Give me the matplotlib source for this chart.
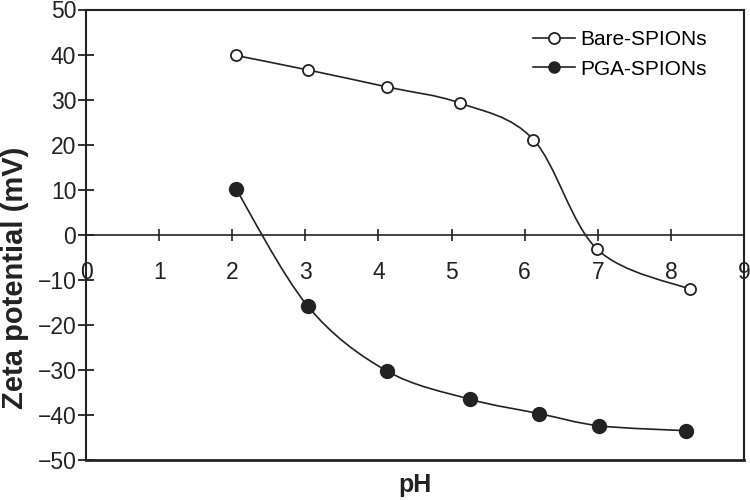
import numpy as np
import matplotlib.pyplot as plt
from matplotlib.path import Path
from matplotlib.patches import PathPatch

plt.rcParams['font.family'] = ['Liberation Sans', 'DejaVu Sans']

# --- Data ---
bare_ph = [2.05, 3.03, 4.12, 5.12, 6.12, 6.99, 8.26]
bare_zeta = [39.8, 36.6, 32.8, 29.2, 21.1, -3.2, -12.1]
pga_ph = [2.05, 3.03, 4.11, 5.25, 6.2, 7.02, 8.21]
pga_zeta = [10.2, -15.8, -30.2, -36.5, -39.7, -42.4, -43.5]
x_ticks = list(range(0, 10))
y_ticks = list(range(-50, 51, 10))

INK = '#222222'


def smooth_path(xs, ys):
    # Catmull-Rom through the points, drawn as cubic Bezier segments
    pts = np.column_stack([xs, ys])
    verts = [pts[0]]
    codes = [Path.MOVETO]
    n = len(pts)
    for i in range(n - 1):
        p0 = pts[i - 1] if i > 0 else pts[i]
        p1 = pts[i]
        p2 = pts[i + 1]
        p3 = pts[i + 2] if i + 2 < n else pts[i + 1]
        c1 = p1 + (p2 - p0) / 6.0
        c2 = p2 - (p3 - p1) / 6.0
        verts += [c1, c2, p2]
        codes += [Path.CURVE4] * 3
    return Path(verts, codes)


fig = plt.figure(figsize=(7.5, 5), dpi=100)
ax = fig.add_axes([0.1147, 0.08, 0.8773, 0.901])

for xs, ys in [(bare_ph, bare_zeta), (pga_ph, pga_zeta)]:
    ax.add_patch(PathPatch(smooth_path(xs, ys), fill=False, color=INK, lw=1.2))

ax.plot(bare_ph, bare_zeta, ls='none', marker='o', ms=8, mfc='white',
        mec=INK, mew=1.3, label='Bare-SPIONs')
ax.plot(pga_ph, pga_zeta, ls='none', marker='o', ms=10, mfc=INK,
        mec=INK, label='PGA-SPIONs')

ax.set_xlim(0, 9)
ax.set_ylim(-50, 50)
ax.set_xticks(x_ticks)
ax.set_yticks(y_ticks)

for s in ax.spines.values():
    s.set_linewidth(1.5)
    s.set_color(INK)
ax.spines['bottom'].set_position(('data', 0))
ax.spines['bottom'].set_linewidth(1.2)
ax.axhline(-50, color=INK, lw=2.0, clip_on=False)

ax.tick_params(axis='x', direction='inout', length=8, width=1.2, pad=15,
               labelsize=16.5, colors=INK)
ax.tick_params(axis='y', direction='inout', length=12, width=1.3, pad=1,
               labelsize=16.5, colors=INK)

fig.text(415 / 750, 15 / 500, 'pH', fontsize=18, fontweight='bold',
         color=INK, ha='center', va='center')
fig.text(15 / 750, 222 / 500, 'Zeta potential (mV)', fontsize=21,
         fontweight='bold', color=INK, rotation=90, ha='center', va='center')

leg = ax.legend(loc='upper right', frameon=False, fontsize=15,
                handlelength=2.0, borderaxespad=0.6, labelspacing=0.5,
                handletextpad=0.25, bbox_to_anchor=(0.975, 1.0))
for h in leg.legend_handles:
    h.set_linestyle('-')
    h.set_linewidth(1.2)
    h.set_color(INK)
    h.set_markersize(8)

fig.savefig('out.png', dpi=100)
